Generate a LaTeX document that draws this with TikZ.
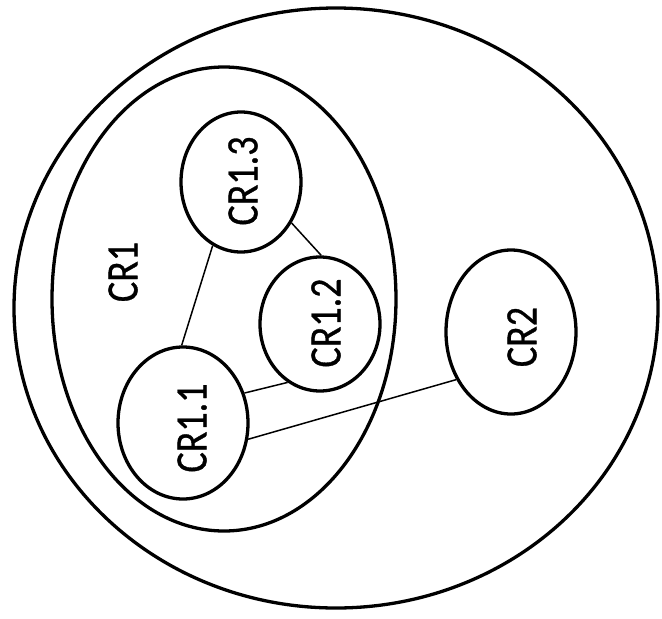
\documentclass[tikz,border=0pt]{standalone}
\usepackage{fontspec}
\setmainfont{Carlito}
\newfontfamily\crfont[FakeBold=0.8]{Carlito}
\usetikzlibrary{shapes.geometric}

\tikzset{every picture/.style={line width=0.75pt}}
\tikzset{
  region/.style={draw, ellipse, line width=3.3pt, inner sep=0pt},
  crtext/.style={font=\crfont\fontsize{38}{38}\selectfont, inner sep=0.75pt, rotate=90, yscale=1.18},
  link/.style={line width=1.5pt}
}

\begin{document}
\begin{tikzpicture}[x=1pt,y=1pt,yscale=-1]
\useasboundingbox (0,0) rectangle (662,619);

%Shape: Ellipse [outer]
\node [region, minimum width=644, minimum height=600] (all) at (336,308) {};
%Shape: Ellipse [CR1]
\node [region, minimum width=344, minimum height=464] (cr1) at (224,299) {};
%Shape: Ellipse [CR1.3]
\node [region, minimum width=120, minimum height=140] (cr13) at (241,182) {};
%Shape: Ellipse [CR1.2]
\node [region, minimum width=120, minimum height=134] (cr12) at (320,324) {};
%Shape: Ellipse [CR1.1]
\node [region, minimum width=130, minimum height=152] (cr11) at (183,423) {};
%Shape: Ellipse [CR2]
\node [region, minimum width=130, minimum height=164] (cr2) at (511,332) {};

%Straight Lines
\draw [link] (cr13.246) -- (cr11.91) ;
%Straight Lines
\draw [link] (cr13.321) -- (cr12.89) ;
%Straight Lines
\draw [link] (cr11.26) -- (cr12.241) ;
%Straight Lines
\draw [link] (cr2.221) -- (cr11.346) ;

% Text Node
\node [crtext] (t1) at (123,272) {CR1};
% Text Node
\node [crtext] (t13) at (243,181) {CR1.3};
% Text Node
\node [crtext] (t12) at (326,323) {CR1.2};
% Text Node
\node [crtext] (t11) at (192,428) {CR1.1};
% Text Node
\node [crtext] (t2) at (522,337) {CR2};

\end{tikzpicture}
\end{document}
